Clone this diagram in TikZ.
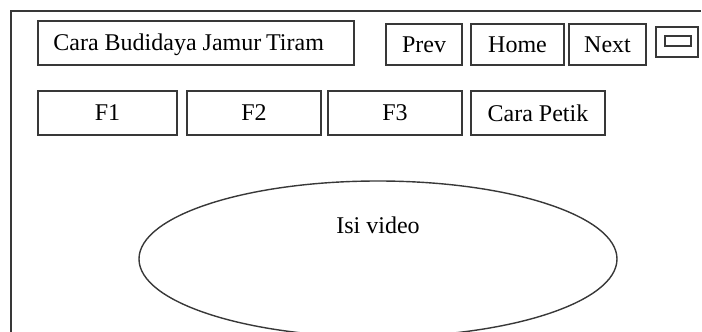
\documentclass[tikz,border=0pt]{standalone}
\usepackage{fontspec}
\setmainfont{Liberation Serif}
\usetikzlibrary{shapes.geometric}

\tikzset{
  frame/.style={draw=black!78, line width=0.7pt},
  btn/.style={frame, rectangle, inner sep=0pt, text=black,
              font=\fontsize{12}{14}\selectfont},
  caption/.style={inner sep=0pt, text=black, font=\fontsize{12}{14}\selectfont},
}

\begin{document}
\begin{tikzpicture}[x=0.5pt, y=-0.5pt]
  % page area, 1 unit = one screen pixel
  \useasboundingbox (0,0) rectangle (702,332);
  \clip (0,0) rectangle (702,332);

  % window border (open to the right and bottom)
  \draw[frame] (11,345) -- (11,11) -- (701,11);

  % title bar, caption set flush left inside it
  \node[btn, minimum width=158pt, minimum height=22pt] (title) at (196,43) {};
  \node[caption, anchor=base west] (titletext) at (53,50.5)
        {Cara Budidaya Jamur\hspace{-0.6pt} Tiram};

  % navigation buttons
  \node[btn, minimum width=38pt,   minimum height=20.5pt] (prev) at (424,44.5) {Prev};
  \node[btn, minimum width=46.5pt, minimum height=20.5pt] (home) at (517.5,44.5) {Home};
  \node[btn, minimum width=38.5pt, minimum height=20.5pt] (next) at (607.5,44.5) {Next};

  % minimise control
  \node[btn, minimum width=21pt, minimum height=15pt] (winbox) at (677,42) {};
  \node[btn, minimum width=13pt, minimum height=5pt] (winbar) at (678,41) {};

  % menu row
  \node[btn, minimum width=69.5pt, minimum height=22pt] (f1) at (107.5,113) {F1};
  \node[btn, minimum width=67pt,   minimum height=22pt] (f2) at (254,113) {F2};
  \node[btn, minimum width=67pt,   minimum height=22pt] (f3) at (395,113) {F3};
  \node[btn, minimum width=67pt,   minimum height=22pt] (petik) at (538,113) {Cara Petik};

  % video area
  \node[frame, ellipse, inner sep=0pt, minimum width=239pt, minimum height=78pt]
        (video) at (378,259) {};
  \node[caption, anchor=base] (videotext) at (378,233.5) {Isi video};
\end{tikzpicture}
\end{document}
